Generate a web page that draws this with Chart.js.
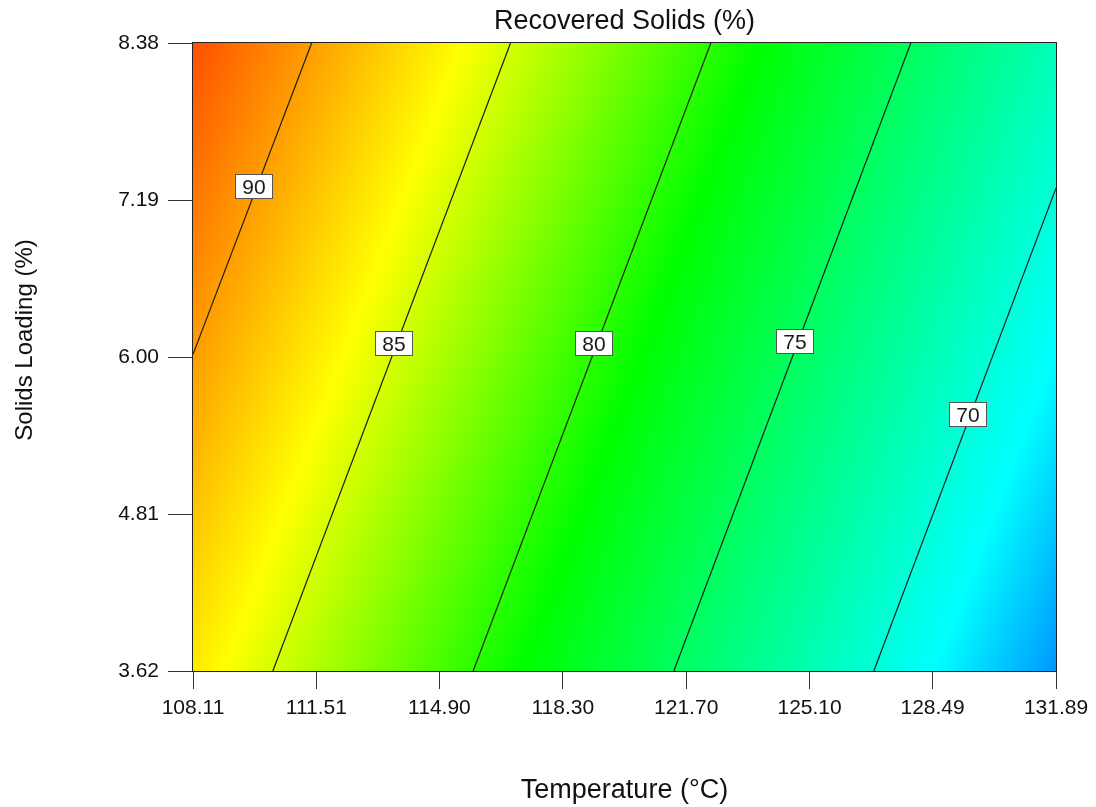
<!DOCTYPE html>
<html>
<head>
<meta charset="utf-8">
<title>Recovered Solids</title>
<script src="https://cdn.jsdelivr.net/npm/chart.js@4.4.0/dist/chart.umd.min.js"></script>
<style>
  html, body { margin: 0; padding: 0; background: #fff; }
  #wrap { width: 1096px; height: 807px; }
</style>
</head>
<body>
<div id="wrap"><canvas id="contourChart" width="1096" height="807"></canvas></div>
<script>
// axis ticks
var tempTicks = [108.11, 111.51, 114.90, 118.30, 121.70, 125.10, 128.49, 131.89];
var loadTicks = [3.62, 4.81, 6.00, 7.19, 8.38];

// recovered solids (%) at each temperature tick, one row per loading tick (bottom to top)
var recovered = [
  [86.98, 83.90, 80.84, 77.76, 74.68, 71.61, 68.54, 65.46],
  [88.46, 85.38, 82.32, 79.24, 76.16, 73.09, 70.02, 66.94],
  [89.95, 86.87, 83.81, 80.73, 77.65, 74.58, 71.51, 68.43],
  [91.43, 88.35, 85.29, 82.21, 79.13, 76.06, 72.99, 69.91],
  [92.92, 89.84, 86.78, 83.70, 80.62, 77.55, 74.48, 71.40]
];

// contour levels and where each line enters / leaves the frame
var levels = [90, 85, 80, 75, 70];
var contour90 = [{x: 108.11, y: 6.02}, {x: 111.38, y: 8.38}];
var contour85 = [{x: 110.31, y: 3.62}, {x: 116.86, y: 8.38}];
var contour80 = [{x: 115.83, y: 3.62}, {x: 122.38, y: 8.38}];
var contour75 = [{x: 121.36, y: 3.62}, {x: 127.89, y: 8.38}];
var contour70 = [{x: 126.87, y: 3.62}, {x: 131.89, y: 7.28}];

// where the level label sits on each line
var labelTemp = [109.78, 113.65, 119.17, 124.70, 129.47];
var labelLoad = [7.29, 6.10, 6.10, 6.11, 5.56];

var chartTitle = 'Recovered Solids (%)';
var tempTitle = 'Temperature (°C)';
var loadTitle = 'Solids Loading (%)';

// colour ramp: response value -> rgb
var rampValues = [61.0, 68.5, 78.8, 86.2, 96.0];
var rampColors = [[0, 0, 255], [0, 255, 255], [0, 255, 0], [255, 255, 0], [255, 0, 0]];

var fontFamily = '"Liberation Sans", Arial, Helvetica, sans-serif';

function segment(arr, v) {
    for (var i = 0; i < arr.length - 2; i++) {
        if (v < arr[i + 1]) return i;
    }
    return arr.length - 2;
}

function surfaceValue(t, s) {
    var i = segment(tempTicks, t), j = segment(loadTicks, s);
    var tx = (t - tempTicks[i]) / (tempTicks[i + 1] - tempTicks[i]);
    var ty = (s - loadTicks[j]) / (loadTicks[j + 1] - loadTicks[j]);
    var a = recovered[j][i], b = recovered[j][i + 1];
    var c = recovered[j + 1][i], d = recovered[j + 1][i + 1];
    return a * (1 - tx) * (1 - ty) + b * tx * (1 - ty) + c * (1 - tx) * ty + d * tx * ty;
}

function rampColor(v) {
    if (v <= rampValues[0]) return rampColors[0];
    var n = rampValues.length - 1;
    if (v >= rampValues[n]) return rampColors[n];
    var k = segment(rampValues, v);
    var f = (v - rampValues[k]) / (rampValues[k + 1] - rampValues[k]);
    var c0 = rampColors[k], c1 = rampColors[k + 1];
    return [c0[0] + (c1[0] - c0[0]) * f, c0[1] + (c1[1] - c0[1]) * f, c0[2] + (c1[2] - c0[2]) * f];
}

// paints the response surface under the contour lines
var surfacePlugin = {
    id: 'surface',
    beforeDatasetsDraw: function(chart) {
        var area = chart.chartArea, xs = chart.scales.x, ys = chart.scales.y;
        var left = Math.round(area.left), top = Math.round(area.top);
        var w = Math.round(area.right) - left, h = Math.round(area.bottom) - top;
        var img = chart.ctx.createImageData(w, h);
        for (var py = 0; py < h; py++) {
            var s = ys.getValueForPixel(top + py + 0.5);
            for (var px = 0; px < w; px++) {
                var t = xs.getValueForPixel(left + px + 0.5);
                var c = rampColor(surfaceValue(t, s));
                var o = (py * w + px) * 4;
                img.data[o] = c[0];
                img.data[o + 1] = c[1];
                img.data[o + 2] = c[2];
                img.data[o + 3] = 255;
            }
        }
        chart.ctx.putImageData(img, left, top);
    },
    afterDatasetsDraw: function(chart) {
        var ctx = chart.ctx, area = chart.chartArea, xs = chart.scales.x, ys = chart.scales.y;
        ctx.save();
        // frame
        ctx.strokeStyle = '#222';
        ctx.lineWidth = 1;
        ctx.strokeRect(area.left - 0.5, area.top - 0.5, area.right - area.left + 1, area.bottom - area.top + 1);
        // level labels
        ctx.font = '21px ' + fontFamily;
        ctx.textAlign = 'center';
        ctx.textBaseline = 'middle';
        levels.forEach(function(lv, k) {
            var cx = Math.round(xs.getPixelForValue(labelTemp[k]));
            var cy = Math.round(ys.getPixelForValue(labelLoad[k]));
            var txt = String(lv);
            var bw = Math.round(ctx.measureText(txt).width) + 15, bh = 25;
            var bx = cx - Math.round(bw / 2), by = cy - Math.round(bh / 2);
            ctx.fillStyle = '#fff';
            ctx.fillRect(bx, by, bw, bh);
            ctx.strokeStyle = '#555';
            ctx.strokeRect(bx + 0.5, by + 0.5, bw - 1, bh - 1);
            ctx.fillStyle = '#1a1a1a';
            ctx.fillText(txt, cx, cy + 1);
        });
        ctx.restore();
    }
};

// vertical axis title
var loadTitlePlugin = {
    id: 'loadTitle',
    afterDraw: function(chart) {
        var ctx = chart.ctx;
        ctx.save();
        ctx.translate(25, 340);
        ctx.rotate(-Math.PI / 2);
        ctx.font = '24px ' + fontFamily;
        ctx.fillStyle = '#111';
        ctx.textAlign = 'center';
        ctx.textBaseline = 'middle';
        ctx.fillText(loadTitle, 0, 0);
        ctx.restore();
    }
};

var contourSets = [contour90, contour85, contour80, contour75, contour70];

var ctx = document.getElementById('contourChart');
var chartContour = new Chart(ctx, {
    type: 'scatter',
    data: {
        datasets: contourSets.map(function(pts, k) {
            return {
                label: String(levels[k]),
                data: pts,
                showLine: true,
                borderColor: '#1c1c1c',
                borderWidth: 1.2,
                pointRadius: 0,
                pointHoverRadius: 0,
                fill: false
            };
        })
    },
    options: {
        responsive: false,
        devicePixelRatio: 1,
        animation: false,
        events: [],
        layout: { padding: { left: 0, right: 40, top: 0, bottom: 0 } },
        plugins: {
            legend: { display: false },
            tooltip: { enabled: false },
            title: {
                display: true,
                text: chartTitle,
                fullSize: false,
                color: '#111',
                font: { family: fontFamily, size: 27, weight: 'normal' },
                padding: { top: 5, bottom: 5.6 }
            }
        },
        scales: {
            x: {
                type: 'linear',
                position: 'bottom',
                min: tempTicks[0],
                max: tempTicks[tempTicks.length - 1],
                afterBuildTicks: function(scale) {
                    scale.ticks = tempTicks.map(function(v) { return { value: v }; });
                },
                afterFit: function(scale) { scale.height = 136; },
                ticks: {
                    autoSkip: false,
                    maxRotation: 0,
                    padding: 7,
                    color: '#111',
                    font: { family: fontFamily, size: 21 },
                    callback: function(v) { return Number(v).toFixed(2); }
                },
                grid: { drawOnChartArea: false, drawTicks: true, tickLength: 18, color: '#333' },
                border: { display: true, color: '#222' },
                title: {
                    display: true,
                    text: tempTitle,
                    color: '#111',
                    font: { family: fontFamily, size: 27 },
                    padding: { top: 0, bottom: 0 }
                }
            },
            y: {
                type: 'linear',
                position: 'left',
                min: loadTicks[0],
                max: loadTicks[loadTicks.length - 1],
                afterBuildTicks: function(scale) {
                    scale.ticks = loadTicks.map(function(v) { return { value: v }; });
                },
                afterFit: function(scale) { scale.width = 193; },
                ticks: {
                    autoSkip: false,
                    padding: 9,
                    color: '#111',
                    font: { family: fontFamily, size: 21 },
                    callback: function(v) { return Number(v).toFixed(2); }
                },
                grid: { drawOnChartArea: false, drawTicks: true, tickLength: 25, color: '#333' },
                border: { display: true, color: '#222' }
            }
        }
    },
    plugins: [surfacePlugin, loadTitlePlugin]
});
</script>
</body>
</html>
